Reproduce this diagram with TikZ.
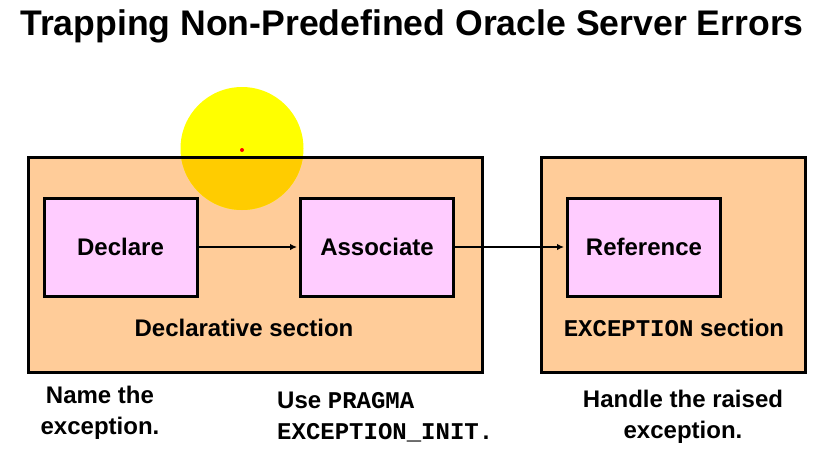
\documentclass[tikz,border=0pt]{standalone}
\usepackage{fontspec}
\setmainfont{Liberation Sans}
\setmonofont{Liberation Mono}
\usepackage{xcolor}
\usepackage{tikz}
\usetikzlibrary{arrows.meta,positioning}
\definecolor{peach}{HTML}{FFCC99}
\definecolor{plilac}{HTML}{FFCCFF}
\definecolor{sunyellow}{HTML}{FFFF00}
\definecolor{sunorange}{HTML}{FFCC00}

\begin{document}
\begin{tikzpicture}[
    x=1pt,y=1pt,
    font=\bfseries\fontsize{24}{31}\selectfont,
    sect/.style={draw=black,fill=peach,line width=3pt,
                 inner sep=0pt,outer sep=0pt},
    stagebox/.style={draw=black,fill=plilac,line width=3pt,
                     minimum width=153pt,minimum height=98pt,inner sep=0pt},
    arr/.style={-{Latex[length=7pt,width=6.5pt]},line width=2.3pt,shorten >=2pt},
    note/.style={align=center,inner sep=0pt}
  ]
    \useasboundingbox (0,0) rectangle (831,-453);

    \node[anchor=base,font=\bfseries\fontsize{35.6}{40}\selectfont] (title)
      at (412,-35) {Trapping Non-Predefined Oracle Server Errors};

    % Sections
    \node[sect,minimum width=454pt,minimum height=215pt] (decsec) at (255,-264.5) {};
    \node[sect,minimum width=264pt,minimum height=215pt] (excsec) at (673,-265) {};

    % Sun over the declarative section
    \fill[sunyellow] (242,-148.5) circle (61.5);
    \begin{scope}
      \clip (decsec.north west) rectangle (decsec.south east);
      \fill[sunorange] (242,-148.5) circle (61.5);
    \end{scope}
    \draw[line width=3pt] (decsec.north west) -- (decsec.north east);
    \fill[red] (242,-150) circle (2);

    \node (declbl) at (244,-328) {Declarative section};
    \node (exclbl) at (674,-328) {\texttt{EXCEPTION} section};

    % Stages
    \node[stagebox] (declare)   at (120.5,-247) {Declare};
    \node[stagebox] (associate) at (377,-247)   {Associate};
    \node[stagebox] (reference) at (644,-247)   {Reference};

    % Arrows
    \draw[arr] (declare) -- (associate);
    \draw[arr] (associate) -- (reference);

    % Notes
    \node[note] (name) at (100,-413) {Name the\\exception.};
    \node[note,align=left,anchor=west] (use) at (277,-417)
      {Use \texttt{PRAGMA}\\\texttt{EXCEPTION\_INIT.}};
    \node[note] (handle) at (683,-417) {Handle the raised\\exception.};

  \end{tikzpicture}
\end{document}
